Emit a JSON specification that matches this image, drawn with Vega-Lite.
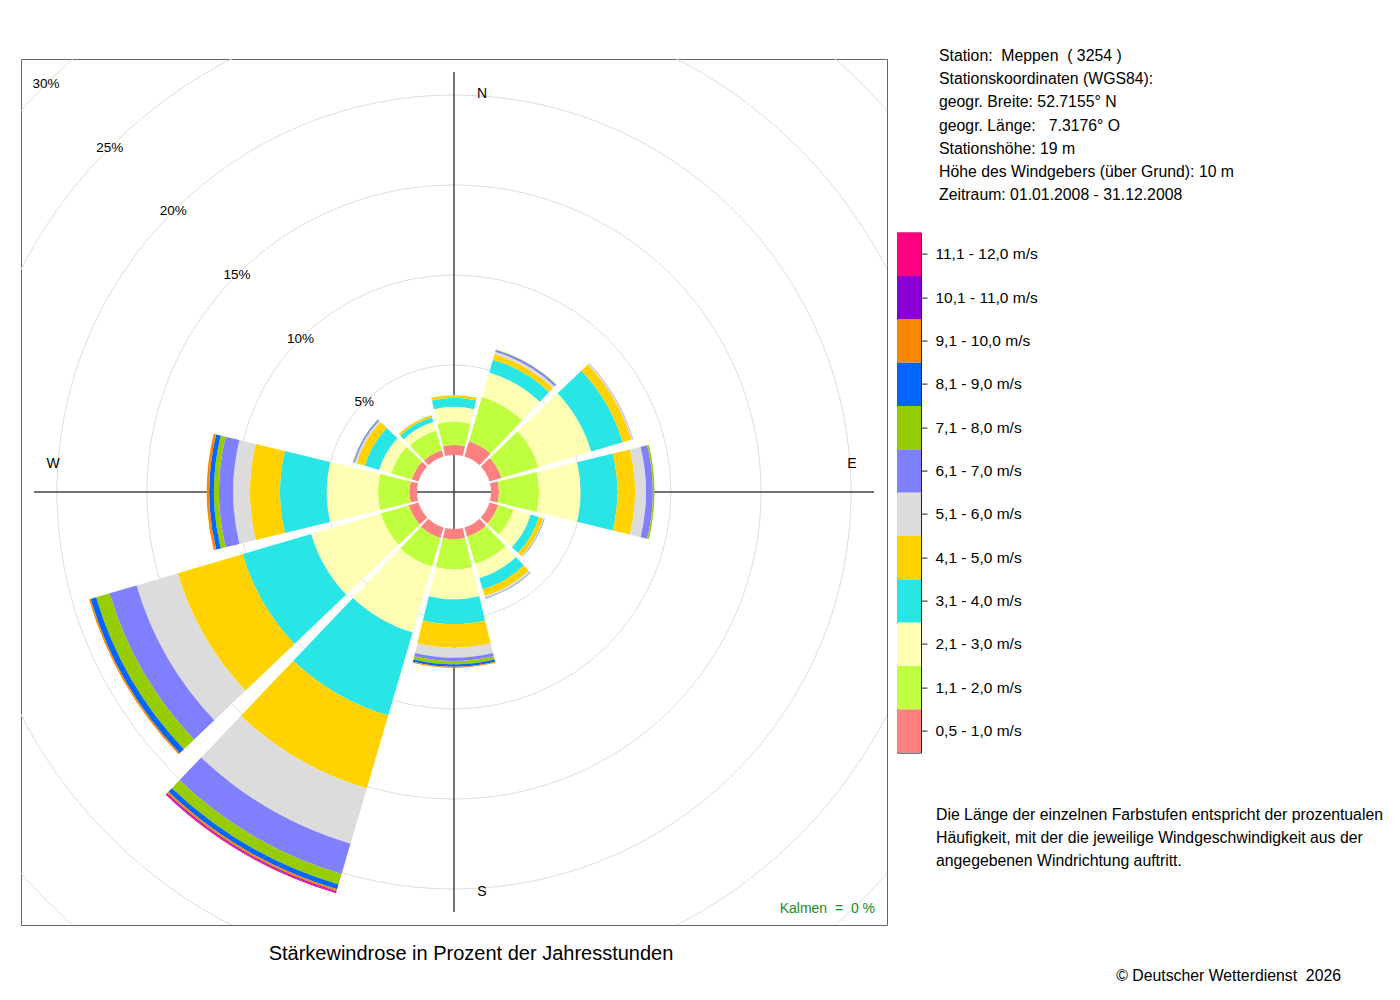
{
  "$schema": "https://vega.github.io/schema/vega-lite/v6.json",
  "background": "white",
  "padding": {"left": 20, "top": 48, "right": 5, "bottom": 5},
  "config": {
    "font": "Liberation Sans",
    "title": {"fontWeight": "normal", "color": "black"},
    "view": {"stroke": "#666666", "strokeWidth": 1}
  },
  "datasets": {
    "classes": [
      {"k": 1, "cls": "0,5 - 1,0 m/s"},
      {"k": 2, "cls": "1,1 - 2,0 m/s"},
      {"k": 3, "cls": "2,1 - 3,0 m/s"},
      {"k": 4, "cls": "3,1 - 4,0 m/s"},
      {"k": 5, "cls": "4,1 - 5,0 m/s"},
      {"k": 6, "cls": "5,1 - 6,0 m/s"},
      {"k": 7, "cls": "6,1 - 7,0 m/s"},
      {"k": 8, "cls": "7,1 - 8,0 m/s"},
      {"k": 9, "cls": "8,1 - 9,0 m/s"},
      {"k": 10, "cls": "9,1 - 10,0 m/s"},
      {"k": 11, "cls": "10,1 - 11,0 m/s"},
      {"k": 12, "cls": "11,1 - 12,0 m/s"}
    ],
    "rose": [
      {"dir": 0, "k": 1, "pct": 0.56}, {"dir": 0, "k": 2, "pct": 1.29}, {"dir": 0, "k": 3, "pct": 0.83},
      {"dir": 0, "k": 4, "pct": 0.5}, {"dir": 0, "k": 5, "pct": 0.15}, {"dir": 0, "k": 6, "pct": 0.02},
      {"dir": 30, "k": 1, "pct": 0.89}, {"dir": 30, "k": 2, "pct": 2.55}, {"dir": 30, "k": 3, "pct": 1.42},
      {"dir": 30, "k": 4, "pct": 0.75}, {"dir": 30, "k": 5, "pct": 0.31}, {"dir": 30, "k": 6, "pct": 0.14},
      {"dir": 30, "k": 7, "pct": 0.11}, {"dir": 30, "k": 8, "pct": 0.03},
      {"dir": 60, "k": 1, "pct": 0.69}, {"dir": 60, "k": 2, "pct": 2.14}, {"dir": 60, "k": 3, "pct": 3.06},
      {"dir": 60, "k": 4, "pct": 1.83}, {"dir": 60, "k": 5, "pct": 0.5}, {"dir": 60, "k": 6, "pct": 0.08},
      {"dir": 60, "k": 7, "pct": 0.02},
      {"dir": 90, "k": 1, "pct": 0.44}, {"dir": 90, "k": 2, "pct": 2.23}, {"dir": 90, "k": 3, "pct": 2.31},
      {"dir": 90, "k": 4, "pct": 2.04}, {"dir": 90, "k": 5, "pct": 0.98}, {"dir": 90, "k": 6, "pct": 0.61},
      {"dir": 90, "k": 7, "pct": 0.38}, {"dir": 90, "k": 8, "pct": 0.09},
      {"dir": 120, "k": 1, "pct": 0.5}, {"dir": 120, "k": 2, "pct": 0.89}, {"dir": 120, "k": 3, "pct": 1.0},
      {"dir": 120, "k": 4, "pct": 0.47}, {"dir": 120, "k": 5, "pct": 0.25}, {"dir": 120, "k": 6, "pct": 0.05},
      {"dir": 120, "k": 7, "pct": 0.01}, {"dir": 120, "k": 8, "pct": 0.01}, {"dir": 120, "k": 9, "pct": 0.01},
      {"dir": 150, "k": 1, "pct": 0.53}, {"dir": 150, "k": 2, "pct": 1.58}, {"dir": 150, "k": 3, "pct": 0.83},
      {"dir": 150, "k": 4, "pct": 0.64}, {"dir": 150, "k": 5, "pct": 0.39}, {"dir": 150, "k": 6, "pct": 0.11},
      {"dir": 150, "k": 7, "pct": 0.01}, {"dir": 150, "k": 8, "pct": 0.01}, {"dir": 150, "k": 9, "pct": 0.02},
      {"dir": 180, "k": 1, "pct": 0.57}, {"dir": 180, "k": 2, "pct": 1.67}, {"dir": 180, "k": 3, "pct": 1.67},
      {"dir": 180, "k": 4, "pct": 1.38}, {"dir": 180, "k": 5, "pct": 1.3}, {"dir": 180, "k": 6, "pct": 0.56},
      {"dir": 180, "k": 7, "pct": 0.18}, {"dir": 180, "k": 8, "pct": 0.19}, {"dir": 180, "k": 9, "pct": 0.13},
      {"dir": 180, "k": 10, "pct": 0.06},
      {"dir": 210, "k": 1, "pct": 0.61}, {"dir": 210, "k": 2, "pct": 1.67}, {"dir": 210, "k": 3, "pct": 3.8},
      {"dir": 210, "k": 4, "pct": 4.81}, {"dir": 210, "k": 5, "pct": 4.22}, {"dir": 210, "k": 6, "pct": 3.2},
      {"dir": 210, "k": 7, "pct": 1.75}, {"dir": 210, "k": 8, "pct": 0.61}, {"dir": 210, "k": 9, "pct": 0.28},
      {"dir": 210, "k": 10, "pct": 0.11}, {"dir": 210, "k": 11, "pct": 0.06}, {"dir": 210, "k": 12, "pct": 0.06},
      {"dir": 240, "k": 1, "pct": 0.56}, {"dir": 240, "k": 2, "pct": 1.63}, {"dir": 240, "k": 3, "pct": 4.03},
      {"dir": 240, "k": 4, "pct": 3.97}, {"dir": 240, "k": 5, "pct": 3.75}, {"dir": 240, "k": 6, "pct": 2.39},
      {"dir": 240, "k": 7, "pct": 1.56}, {"dir": 240, "k": 8, "pct": 0.78}, {"dir": 240, "k": 9, "pct": 0.32},
      {"dir": 240, "k": 10, "pct": 0.09},
      {"dir": 270, "k": 1, "pct": 0.42}, {"dir": 270, "k": 2, "pct": 1.75}, {"dir": 270, "k": 3, "pct": 2.85},
      {"dir": 270, "k": 4, "pct": 2.59}, {"dir": 270, "k": 5, "pct": 1.67}, {"dir": 270, "k": 6, "pct": 0.93},
      {"dir": 270, "k": 7, "pct": 0.79}, {"dir": 270, "k": 8, "pct": 0.28}, {"dir": 270, "k": 9, "pct": 0.26},
      {"dir": 270, "k": 10, "pct": 0.14},
      {"dir": 300, "k": 1, "pct": 0.39}, {"dir": 300, "k": 2, "pct": 1.19}, {"dir": 300, "k": 3, "pct": 0.7},
      {"dir": 300, "k": 4, "pct": 0.83}, {"dir": 300, "k": 5, "pct": 0.47}, {"dir": 300, "k": 6, "pct": 0.11},
      {"dir": 300, "k": 7, "pct": 0.04}, {"dir": 300, "k": 8, "pct": 0.02}, {"dir": 300, "k": 9, "pct": 0.03},
      {"dir": 300, "k": 10, "pct": 0.01},
      {"dir": 330, "k": 1, "pct": 0.36}, {"dir": 330, "k": 2, "pct": 1.14}, {"dir": 330, "k": 3, "pct": 0.5},
      {"dir": 330, "k": 4, "pct": 0.28}, {"dir": 330, "k": 5, "pct": 0.11}, {"dir": 330, "k": 6, "pct": 0.03}
    ],
    "rings": [
      {"pct": 5, "lab": "5%"}, {"pct": 10, "lab": "10%"}, {"pct": 15, "lab": "15%"},
      {"pct": 20, "lab": "20%"}, {"pct": 25, "lab": "25%"}, {"pct": 30, "lab": "30%"}
    ],
    "compass": [
      {"dir": 0, "lab": "N"}, {"dir": 90, "lab": "E"}, {"dir": 180, "lab": "S"}, {"dir": 270, "lab": "W"}
    ],
    "info": [
      {"i": 1, "line": "Station:\u00a0 Meppen\u00a0 ( 3254 )"},
      {"i": 2, "line": "Stationskoordinaten (WGS84):"},
      {"i": 3, "line": "geogr. Breite: 52.7155° N"},
      {"i": 4, "line": "geogr. Länge:\u00a0\u00a0 7.3176° O"},
      {"i": 5, "line": "Stationshöhe: 19 m"},
      {"i": 6, "line": "Höhe des Windgebers (über Grund): 10 m"},
      {"i": 7, "line": "Zeitraum: 01.01.2008 - 31.12.2008"}
    ],
    "note": [
      {"i": 1, "line": "Die Länge der einzelnen Farbstufen entspricht der prozentualen"},
      {"i": 2, "line": "Häufigkeit, mit der die jeweilige Windgeschwindigkeit aus der"},
      {"i": 3, "line": "angegebenen Windrichtung auftritt."}
    ]
  },
  "title": {
    "text": "© Deutscher Wetterdienst\u00a0 2026",
    "orient": "bottom",
    "anchor": "start",
    "frame": "group",
    "align": "right",
    "dx": 1320,
    "offset": 4,
    "fontSize": 15.8
  },
  "bounds": "flush",
  "spacing": 10,
  "hconcat": [
    {
      "width": 866,
      "height": 866,
      "view": {"stroke": "#666666"},
      "title": {
        "text": "Stärkewindrose in Prozent der Jahresstunden",
        "orient": "bottom",
        "anchor": "middle",
        "frame": "group",
        "dx": 17,
        "offset": 19,
        "fontSize": 20
      },
      "layer": [
        {
          "data": {"name": "rings"},
          "mark": {"type": "arc", "theta": 0, "theta2": 6.2832, "radius2": 0, "filled": false, "stroke": "#dddddd", "strokeWidth": 1, "clip": true},
          "encoding": {
            "radius": {"field": "pct", "type": "quantitative", "stack": null, "scale": {"type": "linear", "domain": [0, 30], "range": [37, 577]}}
          }
        },
        {
          "data": {"name": "compass"},
          "mark": {"type": "arc", "radius": 420, "radius2": 0, "filled": false, "stroke": "#444444", "strokeWidth": 1},
          "encoding": {
            "theta": {"field": "dir", "type": "quantitative", "stack": null, "scale": {"domain": [0, 360], "range": [0, 6.283185307]}},
            "theta2": {"field": "dir"}
          }
        },
        {
          "data": {"name": "rose"},
          "transform": [
            {"lookup": "k", "from": {"data": {"name": "classes"}, "key": "k", "fields": ["cls"]}},
            {"stack": "pct", "groupby": ["dir"], "sort": [{"field": "k", "order": "ascending"}], "as": ["r0", "r1"]}
          ],
          "mark": {"type": "arc", "thetaOffset": -0.2374, "theta2Offset": 0.2374},
          "encoding": {
            "theta": {"field": "dir", "type": "quantitative", "stack": null, "scale": {"domain": [0, 360], "range": [0, 6.283185307]}},
            "theta2": {"field": "dir"},
            "radius": {"field": "r1", "type": "quantitative", "stack": null, "scale": {"type": "linear", "domain": [0, 30], "range": [37, 577]}},
            "radius2": {"field": "r0"},
            "fill": {
              "field": "cls",
              "type": "nominal",
              "scale": {
                "domain": ["0,5 - 1,0 m/s", "1,1 - 2,0 m/s", "2,1 - 3,0 m/s", "3,1 - 4,0 m/s", "4,1 - 5,0 m/s", "5,1 - 6,0 m/s", "6,1 - 7,0 m/s", "7,1 - 8,0 m/s", "8,1 - 9,0 m/s", "9,1 - 10,0 m/s", "10,1 - 11,0 m/s", "11,1 - 12,0 m/s"],
                "range": ["#FF8080", "#BFFF3F", "#FFFFB3", "#2AE5E5", "#FFD200", "#DCDCDC", "#8080FF", "#96CC00", "#0066FF", "#F88800", "#8A00D4", "#FF0080"]
              },
              "legend": null
            }
          }
        },
        {
          "data": {"name": "rings"},
          "mark": {"type": "text", "theta": 5.4978, "fontSize": 13.5, "align": "center", "baseline": "middle", "color": "black"},
          "encoding": {
            "radius": {"field": "pct", "type": "quantitative", "stack": null, "scale": {"type": "linear", "domain": [0, 30], "range": [37, 577]}},
            "text": {"field": "lab", "type": "nominal"}
          }
        },
        {
          "data": {"name": "compass"},
          "transform": [{"filter": "datum.dir == 0"}],
          "mark": {"type": "text", "fontSize": 14, "dx": 28, "dy": -1, "align": "center", "baseline": "middle", "color": "black"},
          "encoding": {
            "theta": {"field": "dir", "type": "quantitative", "stack": null, "scale": {"domain": [0, 360], "range": [0, 6.283185307]}},
            "radius": {"datum": 20, "type": "quantitative", "scale": {"type": "linear", "domain": [0, 30], "range": [37, 577]}},
            "text": {"field": "lab", "type": "nominal"}
          }
        },
        {
          "data": {"name": "compass"},
          "transform": [{"filter": "datum.dir == 180"}],
          "mark": {"type": "text", "fontSize": 14, "dx": 28, "dy": 3, "align": "center", "baseline": "middle", "color": "black"},
          "encoding": {
            "theta": {"field": "dir", "type": "quantitative", "stack": null, "scale": {"domain": [0, 360], "range": [0, 6.283185307]}},
            "radius": {"datum": 20, "type": "quantitative", "scale": {"type": "linear", "domain": [0, 30], "range": [37, 577]}},
            "text": {"field": "lab", "type": "nominal"}
          }
        },
        {
          "data": {"name": "compass"},
          "transform": [{"filter": "datum.dir == 90"}],
          "mark": {"type": "text", "fontSize": 14, "dx": 1, "dy": -28, "align": "center", "baseline": "middle", "color": "black"},
          "encoding": {
            "theta": {"field": "dir", "type": "quantitative", "stack": null, "scale": {"domain": [0, 360], "range": [0, 6.283185307]}},
            "radius": {"datum": 20, "type": "quantitative", "scale": {"type": "linear", "domain": [0, 30], "range": [37, 577]}},
            "text": {"field": "lab", "type": "nominal"}
          }
        },
        {
          "data": {"name": "compass"},
          "transform": [{"filter": "datum.dir == 270"}],
          "mark": {"type": "text", "fontSize": 14, "dx": -4, "dy": -28, "align": "center", "baseline": "middle", "color": "black"},
          "encoding": {
            "theta": {"field": "dir", "type": "quantitative", "stack": null, "scale": {"domain": [0, 360], "range": [0, 6.283185307]}},
            "radius": {"datum": 20, "type": "quantitative", "scale": {"type": "linear", "domain": [0, 30], "range": [37, 577]}},
            "text": {"field": "lab", "type": "nominal"}
          }
        }
      ]
    },
    {
      "bounds": "flush",
      "spacing": 10.6,
      "title": {
        "text": "Kalmen\u00a0 =\u00a0 0 %",
        "orient": "bottom",
        "anchor": "start",
        "frame": "group",
        "align": "right",
        "dx": -22,
        "offset": 33,
        "fontSize": 14,
        "color": "#228B22"
      },
      "vconcat": [
        {
          "width": 86,
          "height": 162.4,
          "view": {"stroke": null},
          "data": {"name": "info"},
          "mark": {"type": "text", "align": "left", "baseline": "middle", "fontSize": 15.8, "dx": -1, "dy": -14.6, "color": "black"},
          "encoding": {
            "y": {"field": "i", "type": "ordinal", "axis": null},
            "text": {"field": "line", "type": "nominal"}
          }
        },
        {
          "width": 24,
          "height": 520,
          "view": {"stroke": "#222222"},
          "data": {"name": "classes"},
          "mark": {"type": "rect"},
          "encoding": {
            "y": {
              "field": "cls",
              "type": "nominal",
              "sort": ["11,1 - 12,0 m/s", "10,1 - 11,0 m/s", "9,1 - 10,0 m/s", "8,1 - 9,0 m/s", "7,1 - 8,0 m/s", "6,1 - 7,0 m/s", "5,1 - 6,0 m/s", "4,1 - 5,0 m/s", "3,1 - 4,0 m/s", "2,1 - 3,0 m/s", "1,1 - 2,0 m/s", "0,5 - 1,0 m/s"],
              "scale": {"paddingInner": 0, "paddingOuter": 0},
              "axis": {"orient": "right", "title": null, "domain": false, "tickColor": "#222222", "tickSize": 6, "labelPadding": 8, "labelFontSize": 15.5, "labelColor": "black", "labelFont": "Liberation Sans"}
            },
            "fill": {
              "field": "cls",
              "type": "nominal",
              "scale": {
                "domain": ["0,5 - 1,0 m/s", "1,1 - 2,0 m/s", "2,1 - 3,0 m/s", "3,1 - 4,0 m/s", "4,1 - 5,0 m/s", "5,1 - 6,0 m/s", "6,1 - 7,0 m/s", "7,1 - 8,0 m/s", "8,1 - 9,0 m/s", "9,1 - 10,0 m/s", "10,1 - 11,0 m/s", "11,1 - 12,0 m/s"],
                "range": ["#FF8080", "#BFFF3F", "#FFFFB3", "#2AE5E5", "#FFD200", "#DCDCDC", "#8080FF", "#96CC00", "#0066FF", "#F88800", "#8A00D4", "#FF0080"]
              },
              "legend": null
            }
          }
        },
        {
          "width": 78,
          "height": 69.6,
          "view": {"stroke": null},
          "data": {"name": "note"},
          "mark": {"type": "text", "align": "left", "baseline": "middle", "fontSize": 15.8, "dy": 39.8, "color": "black"},
          "encoding": {
            "y": {"field": "i", "type": "ordinal", "axis": null},
            "text": {"field": "line", "type": "nominal"}
          }
        }
      ]
    }
  ]
}
